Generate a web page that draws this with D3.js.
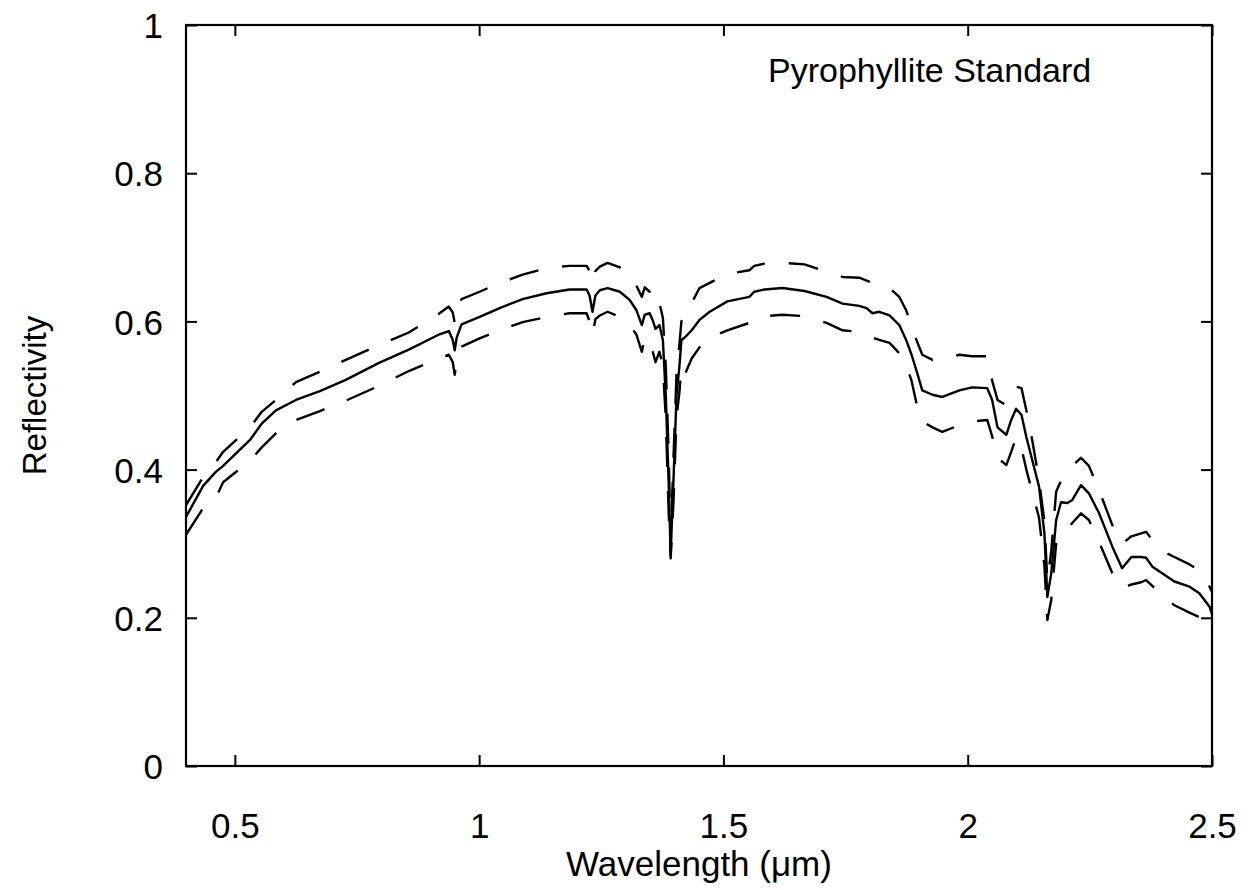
<!DOCTYPE html>
<html>
<head>
<meta charset="utf-8">
<script src="https://cdn.jsdelivr.net/npm/d3@7"></script>
<style>
  html, body { margin: 0; padding: 0; background: #fff; }
  svg text { font-family: "Liberation Sans", Arial, Helvetica, sans-serif; fill: #000; }
</style>
</head>
<body>
<svg id="chart" width="1259" height="890"></svg>
<script>
// ---- data ----
const wavelength = [0.400,0.435,0.461,0.476,0.531,0.555,0.584,0.625,0.674,0.727,0.795,0.856,0.917,0.938,0.946,0.950,0.954,0.964,1.001,1.042,1.089,1.138,1.185,1.220,1.226,1.232,1.238,1.247,1.263,1.288,1.308,1.322,1.333,1.339,1.349,1.355,1.361,1.369,1.376,1.382,1.388,1.392,1.398,1.404,1.410,1.414,1.422,1.435,1.451,1.472,1.508,1.553,1.563,1.584,1.621,1.666,1.711,1.744,1.778,1.793,1.805,1.819,1.840,1.860,1.874,1.885,1.895,1.907,1.928,1.948,1.983,2.009,2.040,2.050,2.061,2.079,2.089,2.099,2.110,2.120,2.132,2.146,2.157,2.163,2.171,2.181,2.191,2.204,2.214,2.232,2.248,2.269,2.296,2.316,2.335,2.355,2.365,2.378,2.398,2.423,2.454,2.474,2.495,2.500];
const reflMean  = [0.336,0.378,0.397,0.405,0.440,0.462,0.480,0.494,0.506,0.521,0.544,0.562,0.582,0.587,0.575,0.561,0.578,0.596,0.606,0.618,0.630,0.638,0.643,0.643,0.635,0.613,0.635,0.642,0.645,0.640,0.629,0.615,0.595,0.609,0.611,0.602,0.590,0.595,0.575,0.500,0.380,0.285,0.390,0.500,0.540,0.575,0.579,0.588,0.602,0.613,0.627,0.633,0.640,0.643,0.645,0.641,0.633,0.624,0.621,0.618,0.611,0.613,0.608,0.595,0.575,0.555,0.534,0.507,0.501,0.498,0.507,0.511,0.510,0.494,0.457,0.447,0.467,0.482,0.474,0.444,0.413,0.377,0.314,0.228,0.260,0.332,0.356,0.355,0.359,0.379,0.368,0.341,0.296,0.267,0.282,0.282,0.281,0.269,0.260,0.249,0.242,0.233,0.215,0.205];
const reflUpper = [0.352,0.390,0.410,0.424,0.457,0.478,0.494,0.518,0.532,0.548,0.568,0.585,0.610,0.620,0.612,0.598,0.615,0.630,0.640,0.652,0.663,0.672,0.675,0.675,0.668,0.652,0.668,0.674,0.679,0.673,0.662,0.648,0.633,0.646,0.640,0.625,0.620,0.625,0.605,0.540,0.420,0.300,0.420,0.530,0.570,0.600,0.615,0.625,0.645,0.652,0.664,0.669,0.675,0.678,0.679,0.677,0.667,0.660,0.659,0.655,0.652,0.650,0.645,0.633,0.615,0.595,0.575,0.555,0.548,0.548,0.555,0.553,0.553,0.520,0.494,0.487,0.500,0.512,0.510,0.480,0.440,0.386,0.330,0.250,0.290,0.370,0.385,0.395,0.405,0.416,0.405,0.372,0.325,0.300,0.310,0.314,0.316,0.305,0.290,0.282,0.272,0.264,0.242,0.235];
const reflLower = [0.312,0.348,0.362,0.383,0.412,0.430,0.449,0.467,0.479,0.493,0.513,0.533,0.550,0.555,0.545,0.528,0.548,0.566,0.577,0.588,0.599,0.606,0.611,0.611,0.600,0.582,0.603,0.608,0.613,0.606,0.596,0.582,0.559,0.578,0.573,0.560,0.545,0.559,0.540,0.470,0.340,0.280,0.360,0.470,0.505,0.540,0.530,0.550,0.565,0.578,0.588,0.598,0.604,0.607,0.609,0.607,0.598,0.588,0.586,0.583,0.578,0.575,0.571,0.557,0.541,0.520,0.490,0.465,0.457,0.451,0.460,0.465,0.467,0.445,0.416,0.406,0.424,0.443,0.429,0.400,0.370,0.335,0.270,0.197,0.224,0.300,0.315,0.320,0.328,0.341,0.332,0.302,0.260,0.240,0.245,0.248,0.251,0.243,0.230,0.217,0.207,0.201,0.188,0.175];

const xTicks = [0.5, 1, 1.5, 2, 2.5];
const yTicks = [0, 0.2, 0.4, 0.6, 0.8, 1];
const xLabel = "Wavelength (μm)";
const yLabel = "Reflectivity";
const titleText = "Pyrophyllite Standard";

// ---- layout ----
const svg = d3.select("#chart");
const L = 186, R = 1212, T = 25, B = 766;
const x = d3.scaleLinear().domain([0.4, 2.5]).range([L, R]);
const y = d3.scaleLinear().domain([0, 1]).range([B, T]);

const tickLen = 11;
const tickFont = 35;

// axes with inward ticks on all four sides
const gx = svg.append("g").attr("transform", `translate(0,${B})`)
  .call(d3.axisBottom(x).tickValues(xTicks).tickSizeInner(-tickLen).tickSizeOuter(0).tickPadding(72)
    .tickFormat(d => String(d)));
const gxTop = svg.append("g").attr("transform", `translate(0,${T})`)
  .call(d3.axisTop(x).tickValues(xTicks).tickSizeInner(-tickLen).tickSizeOuter(0).tickFormat(""));
const gy = svg.append("g").attr("transform", `translate(${L},0)`)
  .call(d3.axisLeft(y).tickValues(yTicks).tickSizeInner(-tickLen).tickSizeOuter(0).tickPadding(23)
    .tickFormat(d => String(d)));
const gyR = svg.append("g").attr("transform", `translate(${R},0)`)
  .call(d3.axisRight(y).tickValues(yTicks).tickSizeInner(-tickLen).tickSizeOuter(0).tickFormat(""));

[gx, gxTop, gy, gyR].forEach(g => {
  g.select(".domain").remove();
  g.selectAll(".tick line").attr("stroke", "#000").attr("stroke-width", 2);
  g.selectAll(".tick text").attr("font-size", tickFont)
    .attr("font-family", '"Liberation Sans", Arial, sans-serif').attr("fill", "#000");
});
gx.selectAll(".tick text").attr("dy", "0");
gy.selectAll(".tick text").attr("dy", "0.36em");

// frame
svg.append("rect").attr("x", L).attr("y", T).attr("width", R - L).attr("height", B - T)
  .attr("fill", "none").attr("stroke", "#000").attr("stroke-width", 2.2);

// curves
const line = d3.line().x(d => x(d[0])).y(d => y(d[1]));
svg.append("clipPath").attr("id", "plotclip")
  .append("rect").attr("x", L).attr("y", T).attr("width", R - L).attr("height", B - T);

const plot = svg.append("g").attr("clip-path", "url(#plotclip)");
const series = [
  { vals: reflUpper, dash: "30,24" },
  { vals: reflLower, dash: "30,24" },
  { vals: reflMean,  dash: null }
];
series.forEach(s => {
  plot.append("path")
    .datum(wavelength.map((w, i) => [w, s.vals[i]]))
    .attr("d", line)
    .attr("fill", "none")
    .attr("stroke", "#000")
    .attr("stroke-width", 2.4)
    .attr("stroke-linejoin", "round")
    .attr("stroke-dasharray", s.dash);
});

// labels
svg.append("text").attr("x", (L + R) / 2).attr("y", 876)
  .attr("text-anchor", "middle").attr("font-size", 35).text(xLabel);
svg.append("text").attr("transform", `translate(46,${(T + B) / 2}) rotate(-90)`)
  .attr("text-anchor", "middle").attr("font-size", 33).text(yLabel);
svg.append("text").attr("x", 768).attr("y", 82)
  .attr("text-anchor", "start").attr("font-size", 34).text(titleText);
</script>
</body>
</html>
